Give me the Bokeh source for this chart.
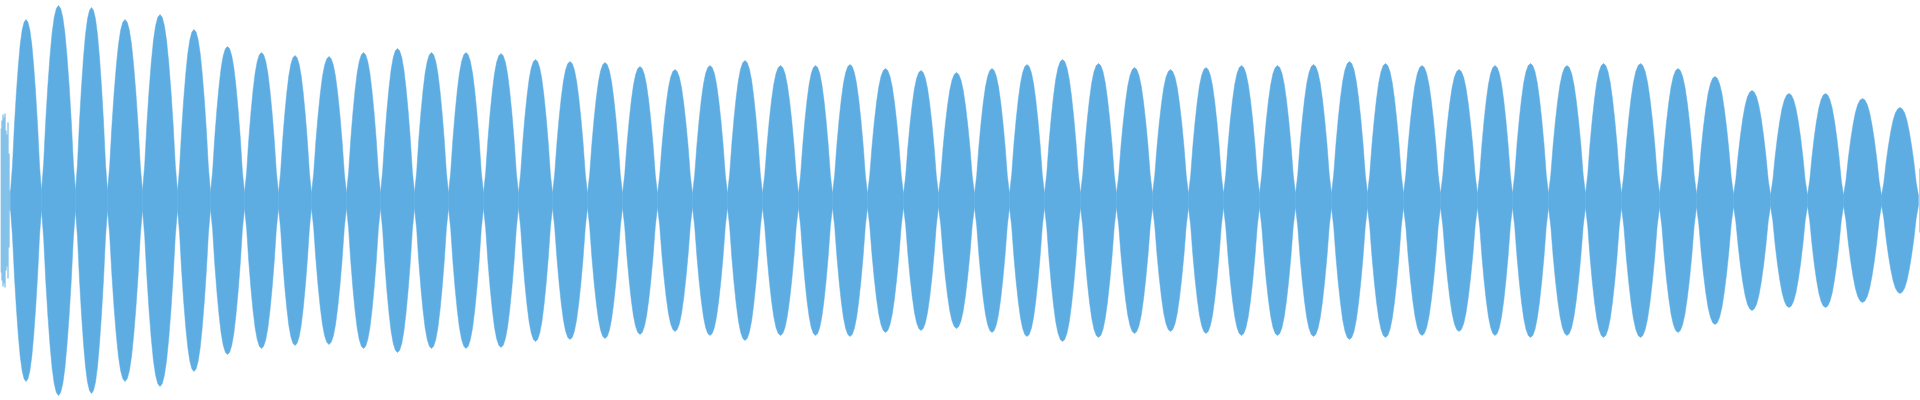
from bokeh.plotting import figure
from bokeh.models import Range1d, ColumnDataSource, GlobalInlineStyleSheet
from bokeh.embed import file_html
from bokeh.resources import INLINE

# --- data (amplitude normalised to 1.0) ---
# noisy fragment at the very start (one value per bucket)
head_amps = [0.36, 0.40, 0.43, 0.415, 0.435, 0.35, 0.33, 0.39, 0.235, 0.05]
# bucket positions of the minima between lobes
lobe_bounds = [10, 41, 75, 107, 142, 177, 210, 244, 278, 311, 346, 380, 414,
               448, 483, 518, 552, 587, 622, 657, 692, 727, 762, 798, 832,
               867, 903, 938, 974, 1009, 1044, 1080, 1116, 1152, 1188, 1223,
               1259, 1295, 1331, 1367, 1403, 1440, 1477, 1512, 1548, 1585,
               1621, 1659, 1696, 1733, 1770, 1807, 1843, 1881, 1918]
# peak amplitude of each lobe
lobe_peaks = [0.905, 0.975, 0.965, 0.905, 0.93, 0.855, 0.77, 0.74, 0.725,
              0.72, 0.74, 0.76, 0.74, 0.74, 0.735, 0.705, 0.695, 0.69, 0.67,
              0.655, 0.675, 0.70, 0.675, 0.675, 0.68, 0.66, 0.65, 0.64, 0.66,
              0.68, 0.705, 0.685, 0.665, 0.655, 0.665, 0.675, 0.675, 0.68,
              0.695, 0.685, 0.675, 0.655, 0.675, 0.685, 0.675, 0.685, 0.685,
              0.66, 0.62, 0.55, 0.535, 0.535, 0.51, 0.465]
# shape of one lobe (relative height at evenly spaced points across the lobe)
lobe_profile = [0.05, 0.19, 0.41, 0.59, 0.74, 0.86, 0.94, 0.985, 1.0,
                0.985, 0.94, 0.86, 0.74, 0.59, 0.41, 0.19, 0.05]
# sliver of the next lobe at the very end
tail_amps = [0.16]
total_buckets = 1920

COLOR = "#5DADE2"

n = len(lobe_profile)
pxs, pys = [], []
for i, peak in enumerate(lobe_peaks):
    x0, x1 = lobe_bounds[i], lobe_bounds[i + 1]
    top_x = [x0 + (x1 - x0) * k / (n - 1) for k in range(n)]
    top_y = [peak * f for f in lobe_profile]
    pxs.append(top_x + top_x[::-1])
    pys.append(top_y + [-v for v in top_y[::-1]])

head_x = [i + 0.5 for i in range(len(head_amps))]
tail_x = [total_buckets - len(tail_amps) + i + 0.5 for i in range(len(tail_amps))]

p = figure(width=1920, height=400, output_backend="svg", toolbar_location=None,
           x_axis_type=None, y_axis_type=None, min_border=0,
           x_range=Range1d(0, total_buckets), y_range=Range1d(-1, 1))
p.outline_line_color = None
p.background_fill_color = "white"
p.border_fill_color = "white"
p.grid.visible = False

p.patches(xs=pxs, ys=pys, fill_color=COLOR, line_color=COLOR, line_width=0.5)
head = ColumnDataSource(dict(x=head_x, top=head_amps, bottom=[-a for a in head_amps]))
p.vbar(x="x", top="top", bottom="bottom", width=1, source=head,
       fill_color=COLOR, line_color=None)
tail = ColumnDataSource(dict(x=tail_x, top=tail_amps, bottom=[-a for a in tail_amps]))
p.vbar(x="x", top="top", bottom="bottom", width=1, source=tail,
       fill_color=COLOR, line_color=None)

p.stylesheets = [GlobalInlineStyleSheet(css="html, body { margin: 0; padding: 0; overflow: hidden; }")]

open("out.html", "w").write(file_html(p, INLINE))
